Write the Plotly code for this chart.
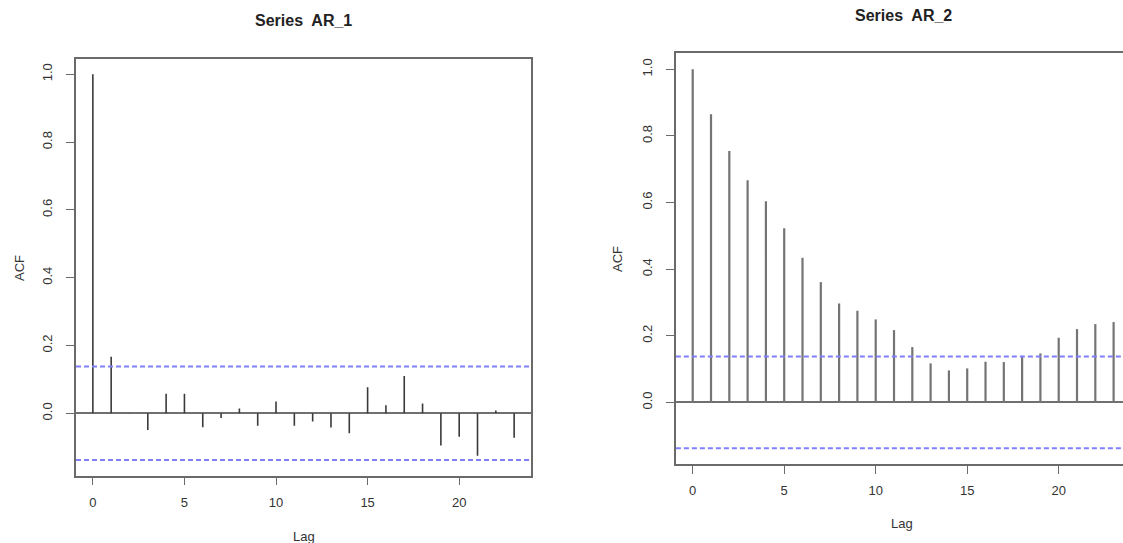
import plotly.graph_objects as go

lags = list(range(24))
acf_ar1 = [1.0, 0.167, 0.001, -0.049, 0.058, 0.058, -0.041, -0.014, 0.014, -0.037,
           0.035, -0.037, -0.024, -0.042, -0.059, 0.077, 0.024, 0.110, 0.029, -0.095,
           -0.069, -0.125, 0.008, -0.072]
acf_ar2 = [1.0, 0.865, 0.755, 0.667, 0.604, 0.523, 0.434, 0.361, 0.297, 0.275,
           0.249, 0.217, 0.166, 0.117, 0.096, 0.102, 0.122, 0.121, 0.140, 0.147,
           0.194, 0.220, 0.235, 0.241]
conf_limit = 0.138
titles = ["Series  AR_1", "Series  AR_2"]
x_ticks = [0, 5, 10, 15, 20]
y_ticks = [0.0, 0.2, 0.4, 0.6, 0.8, 1.0]

W, H = 1123, 543
FONT = "Liberation Sans, Arial, sans-serif"
FRAME = "#6a6a6a"

fig = go.Figure()

left = dict(x0=76, x1=531, y0=59.3, y1=475.7)
right = dict(x0=676, x1=1123, y0=53.3, y1=464)

def px_dom(p):
    return [p["x0"] / W, p["x1"] / W], [1 - p["y1"] / H, 1 - p["y0"] / H]

def spikes(xs, ys):
    sx, sy = [], []
    for x, y in zip(xs, ys):
        sx += [x, x, None]
        sy += [0, y, None]
    return sx, sy

sx, sy = spikes(lags, acf_ar1)
fig.add_trace(go.Scatter(x=sx, y=sy, mode="lines", line=dict(color="#3a3a3a", width=1.6),
                         xaxis="x", yaxis="y", showlegend=False, hoverinfo="skip"))
sx, sy = spikes(lags, acf_ar2)
fig.add_trace(go.Scatter(x=sx, y=sy, mode="lines", line=dict(color="#747474", width=2.2),
                         xaxis="x2", yaxis="y2", showlegend=False, hoverinfo="skip"))

for xa, ya, xr in [("x", "y", [-0.92, 23.92]), ("x2", "y2", [-0.92, 23.6])]:
    for s in (1, -1):
        fig.add_trace(go.Scatter(x=xr, y=[s * conf_limit, s * conf_limit], mode="lines",
                                 line=dict(color="#8080ff", width=2, dash="5px,3px"),
                                 xaxis=xa, yaxis=ya, showlegend=False, hoverinfo="skip"))

xd1, yd1 = px_dom(left)
xd2, yd2 = px_dom(right)

axis_common = dict(
    showgrid=False, ticks="outside", ticklen=8, tickwidth=1, tickcolor=FRAME,
    showline=True, linecolor=FRAME, linewidth=1.5,
    tickfont=dict(family=FONT, size=13, color="#333333"),
)

fig.update_layout(
    width=W, height=H, margin=dict(l=0, r=0, t=0, b=0),
    paper_bgcolor="white", plot_bgcolor="white",
    xaxis=dict(domain=xd1, range=[-0.92, 23.92], tickvals=x_ticks, mirror=True,
               zeroline=False, anchor="y", ticklabelstandoff=6, **axis_common),
    yaxis=dict(domain=yd1, range=[-0.184, 1.044], tickvals=y_ticks, tickformat=".1f",
               tickangle=-90, mirror=True, zeroline=True, zerolinecolor="#707070",
               zerolinewidth=1.5, anchor="x", ticklabelstandoff=9, **axis_common),
    xaxis2=dict(domain=xd2, range=[-0.913, -0.913 + (right["x1"] - right["x0"]) / 18.3],
                tickvals=x_ticks, mirror=True, zeroline=False, anchor="y2",
                ticklabelstandoff=6, **axis_common),
    yaxis2=dict(domain=yd2, range=[-0.185, 1.048], tickvals=y_ticks, tickformat=".1f",
                tickangle=-90, mirror=False, zeroline=True, zerolinecolor="#707070",
                zerolinewidth=1.5, anchor="x2", ticklabelstandoff=9, **axis_common),
)

ann = []
ann.append(dict(text="<b>" + titles[0] + "</b>", x=303.5 / W, y=1 - 20 / H, xref="paper", yref="paper",
                showarrow=False, font=dict(family=FONT, size=16, color="#222222"), xanchor="center", yanchor="middle"))
ann.append(dict(text="<b>" + titles[1] + "</b>", x=903 / W, y=1 - 15 / H, xref="paper", yref="paper",
                showarrow=False, font=dict(family=FONT, size=16, color="#222222"), xanchor="center", yanchor="middle"))
for x, y in [(303.5, 536), (902, 523)]:
    ann.append(dict(text="Lag", x=x / W, y=1 - y / H, xref="paper", yref="paper", showarrow=False,
                    font=dict(family=FONT, size=13, color="#333333"), xanchor="center", yanchor="middle"))
for x, y in [(19, 268), (617, 259)]:
    ann.append(dict(text="ACF", x=x / W, y=1 - y / H, xref="paper", yref="paper", showarrow=False,
                    textangle=-90, font=dict(family=FONT, size=13, color="#333333"),
                    xanchor="center", yanchor="middle"))
fig.update_layout(annotations=ann)

fig.write_html("out.html")
